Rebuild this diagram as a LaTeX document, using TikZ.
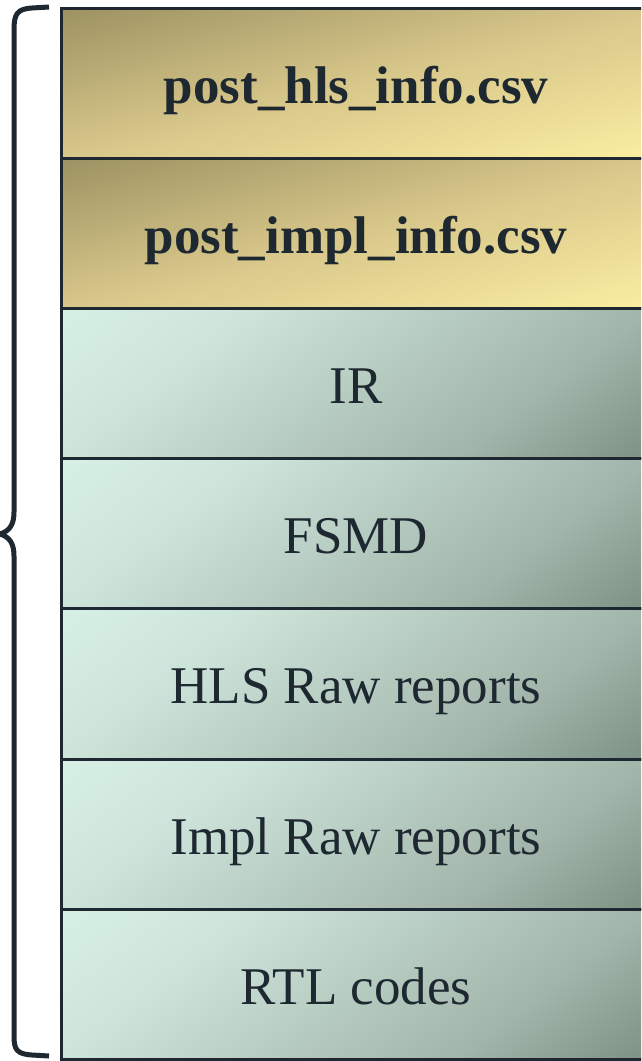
\documentclass[tikz,border=0pt]{standalone}
\usepackage{fontspec}
\setmainfont{Liberation Serif}
\definecolor{edge}{HTML}{1E2830}
\definecolor{goldA}{HTML}{9C9262}
\definecolor{goldM}{HTML}{D8C78A}
\definecolor{goldB}{HTML}{FAEEA2}
\definecolor{mintA}{HTML}{D7F0E5}
\definecolor{mintM}{HTML}{CDE4DA}
\definecolor{mintN}{HTML}{A2B5AA}
\definecolor{mintB}{HTML}{7D9084}
\pgfdeclarehorizontalshading{goldshade}{100bp}{color(0bp)=(goldA); color(25bp)=(goldA); color(50bp)=(goldM); color(75bp)=(goldB); color(100bp)=(goldB)}
\pgfdeclarehorizontalshading{mintshade}{100bp}{color(0bp)=(mintA); color(25bp)=(mintA); color(37.5bp)=(mintM); color(62.5bp)=(mintN); color(75bp)=(mintB); color(100bp)=(mintB)}
\newcommand\layerfill[4]{%
  \begin{scope}
    \clip (61,#1+75.1) rectangle (651,#1-75.1);
    \begin{scope}[transform canvas={cm={5.9,-1.502,#3,#4,(356,#1)}}]
      \shade[shading=#2] (-50,-50) rectangle (50,50);
    \end{scope}
  \end{scope}}
\tikzset{
  layer/.style={draw=edge, line width=3pt, inner sep=0pt, outer sep=0pt,
    minimum width=590pt, minimum height=150.2pt, anchor=north west,
    text height=44pt, text depth=4pt,
    text=edge, font=\fontsize{53}{60}\selectfont},
  goldbox/.style={layer, font=\fontsize{53}{60}\selectfont\bfseries},
  mintbox/.style={layer},
  bracestyle/.style={draw=edge, line width=5pt, line cap=butt, line join=round}
}
\begin{document}
\begin{tikzpicture}[x=1pt,y=1pt]
\useasboundingbox (0,0) rectangle (641,-1061);
\clip (0,0) rectangle (641,-1061);
\layerfill{-83.1}{goldshade}{5.9}{1.502}
\layerfill{-233.3}{goldshade}{5.9}{1.502}
\layerfill{-383.5}{mintshade}{2.95}{2.253}
\layerfill{-533.7}{mintshade}{2.95}{2.253}
\layerfill{-683.9}{mintshade}{2.95}{2.253}
\layerfill{-834.1}{mintshade}{2.95}{2.253}
\layerfill{-984.3}{mintshade}{2.95}{2.253}
\node[goldbox] (b1) at (61,-8) {post\_hls\_info.csv};
\node[goldbox] (b2) at (61,-158.2) {post\_impl\_info.csv};
\node[mintbox] (b3) at (61,-308.4) {IR};
\node[mintbox] (b4) at (61,-458.6) {FSMD};
\node[mintbox] (b5) at (61,-608.8) {HLS Raw reports};
\node[mintbox] (b6) at (61,-759) {Impl Raw reports};
\node[mintbox] (b7) at (61,-909.2) {RTL codes};
\draw[bracestyle] (49,-7) -- (32,-8) .. controls (17,-9) and (14,-14) .. (14,-30)
  -- (14,-512) .. controls (14,-524) and (10,-531) .. (0,-534)
  (0,-534) .. controls (10,-537) and (14,-544) .. (14,-556)
  -- (14,-1036) .. controls (14,-1050) and (17,-1054) .. (32,-1055) -- (49,-1056);
\end{tikzpicture}
\end{document}
